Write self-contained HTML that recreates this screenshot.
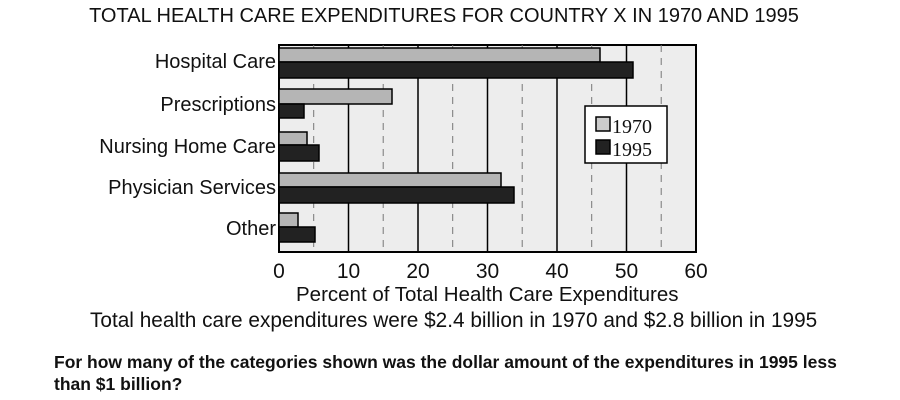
<!DOCTYPE html>
<html><head><style>
body{margin:0;width:900px;height:400px;background:#fff;overflow:hidden;position:relative;font-family:"Liberation Sans",sans-serif}
.t{position:absolute;white-space:nowrap;color:#111}
</style></head><body>
<div class="t" style="left:-6px;width:900px;text-align:center;top:5px;font-size:20px">TOTAL HEALTH CARE EXPENDITURES FOR COUNTRY X IN 1970 AND 1995</div>
<svg width="900" height="400" style="position:absolute;left:0;top:0">
<rect x="279" y="45" width="417" height="207" fill="#ededed" stroke="#000" stroke-width="2"/>
<g stroke="#000" stroke-width="1.5">
<line x1="348.5" y1="45" x2="348.5" y2="252"/><line x1="418" y1="45" x2="418" y2="252"/><line x1="487.5" y1="45" x2="487.5" y2="252"/><line x1="557" y1="45" x2="557" y2="252"/><line x1="626.5" y1="45" x2="626.5" y2="252"/>
</g>
<g stroke="#777" stroke-width="1" stroke-dasharray="7,6">
<line x1="313.7" y1="45" x2="313.7" y2="252"/><line x1="383.2" y1="45" x2="383.2" y2="252"/><line x1="452.7" y1="45" x2="452.7" y2="252"/><line x1="522.2" y1="45" x2="522.2" y2="252"/><line x1="591.7" y1="45" x2="591.7" y2="252"/><line x1="661.2" y1="45" x2="661.2" y2="252"/>
</g>
<g stroke="#000" stroke-width="1.5">
<rect x="279" y="48" width="321" height="14" fill="#b5b5b5"/><rect x="279" y="62" width="354" height="16" fill="#222"/>
<rect x="279" y="89" width="113" height="15" fill="#b5b5b5"/><rect x="279" y="104" width="25" height="14" fill="#222"/>
<rect x="279" y="132" width="28" height="13" fill="#b5b5b5"/><rect x="279" y="145" width="40" height="16" fill="#222"/>
<rect x="279" y="173" width="222" height="14" fill="#b5b5b5"/><rect x="279" y="187" width="235" height="16" fill="#222"/>
<rect x="279" y="213" width="19" height="14" fill="#b5b5b5"/><rect x="279" y="227" width="36" height="15" fill="#222"/>
<rect x="585" y="106" width="82" height="57" fill="#fff"/>
<rect x="596" y="117" width="14" height="14" fill="#ccc"/><rect x="596" y="140" width="14" height="14" fill="#222"/>
</g>
<g font-family="Liberation Serif,serif" font-size="20" fill="#111">
<text x="612" y="133">1970</text><text x="612" y="156">1995</text>
</g>
<g font-size="21" fill="#111" text-anchor="middle">
<text x="279" y="278">0</text><text x="348.5" y="278">10</text><text x="418" y="278">20</text><text x="487.5" y="278">30</text><text x="557" y="278">40</text><text x="626.5" y="278">50</text><text x="696" y="278">60</text>
</g>
<g font-size="20" fill="#111" text-anchor="end">
<text x="276" y="68">Hospital Care</text><text x="276" y="111">Prescriptions</text><text x="276" y="153">Nursing Home Care</text><text x="276" y="194">Physician Services</text><text x="276" y="235">Other</text>
</g>
</svg>
<div class="t" style="left:296px;top:283px;font-size:20.5px">Percent of Total Health Care Expenditures</div>
<div class="t" style="left:90px;top:309px;font-size:20.8px">Total health care expenditures were $2.4 billion in 1970 and $2.8 billion in 1995</div>
<div class="t" style="left:54px;top:351px;font-size:17.5px;font-weight:bold;line-height:22px">For how many of the categories shown was the dollar amount of the expenditures in 1995 less<br>than $1 billion?</div>
</body></html>
